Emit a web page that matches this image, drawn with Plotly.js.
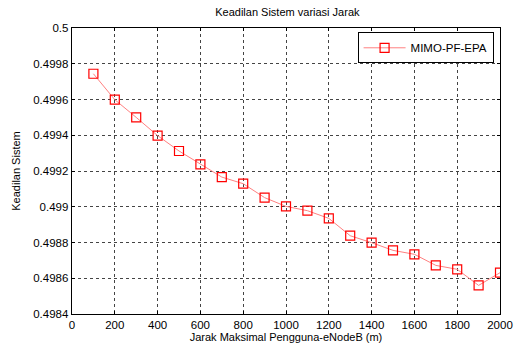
<!DOCTYPE html>
<html><head><meta charset="utf-8">
<script src="https://cdn.plot.ly/plotly-3.0.1.min.js"></script>
<style>html,body{margin:0;padding:0;background:#fff;}#chart{width:515px;height:345px;}</style>
</head><body><div id="chart"></div>
<script>
var jarak = [100,200,300,400,500,600,700,800,900,1000,1100,1200,1300,1400,1500,1600,1700,1800,1900,2000];
var keadilan = [0.499744,0.499599,0.499500,0.499398,0.499312,0.499237,0.499166,0.499129,0.499051,0.499002,0.498978,0.498935,0.498838,0.498799,0.498756,0.498734,0.498672,0.498650,0.498560,0.498631];
var xTicks = [0,200,400,600,800,1000,1200,1400,1600,1800,2000];
var yTicks = [0.4984,0.4986,0.4988,0.499,0.4992,0.4994,0.4996,0.4998,0.5];
var yTickText = ['0.4984','0.4986','0.4988','0.499','0.4992','0.4994','0.4996','0.4998','0.5'];
var seriesName = 'MIMO-PF-EPA';

var trace = {
  x: jarak, y: keadilan, name: seriesName, type: 'scatter', mode: 'lines+markers',
  line: {color: '#ff8080', width: 1},
  marker: {symbol: 'square-open', size: 9, color: '#ff0000', line: {width: 1.2, color: '#ff0000'}}
};
var axisCommon = {
  showline: true, mirror: 'ticks', linecolor: '#000', linewidth: 1.3,
  ticks: 'inside', ticklen: 3, tickcolor: '#000',
  showgrid: true, gridcolor: '#444', griddash: 'dot', gridwidth: 1,
  zeroline: false, tickfont: {family: 'Liberation Sans, Arial, sans-serif', size: 11.5, color: '#000'}
};
var layout = {
  width: 515, height: 345,
  margin: {l: 72, r: 15, t: 28, b: 31},
  paper_bgcolor: '#fff', plot_bgcolor: '#fff',
  showlegend: true,
  title: {text: 'Keadilan Sistem variasi Jarak', font: {family: 'Liberation Sans, Arial, sans-serif', size: 11, color: '#000'}, x: 0.558, xanchor: 'center', y: 0.965, yanchor: 'middle'},
  xaxis: Object.assign({}, axisCommon, {
    range: [0, 2000], tickvals: xTicks, ticktext: xTicks.map(String),
    title: {text: 'Jarak Maksimal Pengguna-eNodeB (m)', font: {family: 'Liberation Sans, Arial, sans-serif', size: 11, color: '#000'}, standoff: 2}
  }),
  yaxis: Object.assign({}, axisCommon, {
    range: [0.4984, 0.5], tickvals: yTicks, ticktext: yTickText,
    title: {text: 'Keadilan Sistem', font: {family: 'Liberation Sans, Arial, sans-serif', size: 11, color: '#000'}, standoff: 10}
  }),
  legend: {x: 0.985, xanchor: 'right', y: 0.985, yanchor: 'top', bgcolor: '#fff', bordercolor: '#000', borderwidth: 1,
    itemwidth: 42, tracegroupgap: 0,
    font: {family: 'Liberation Sans, Arial, sans-serif', size: 11.5, color: '#000'}}
};
Plotly.newPlot('chart', [trace], layout, {displayModeBar: false, staticPlot: true});
</script></body></html>
